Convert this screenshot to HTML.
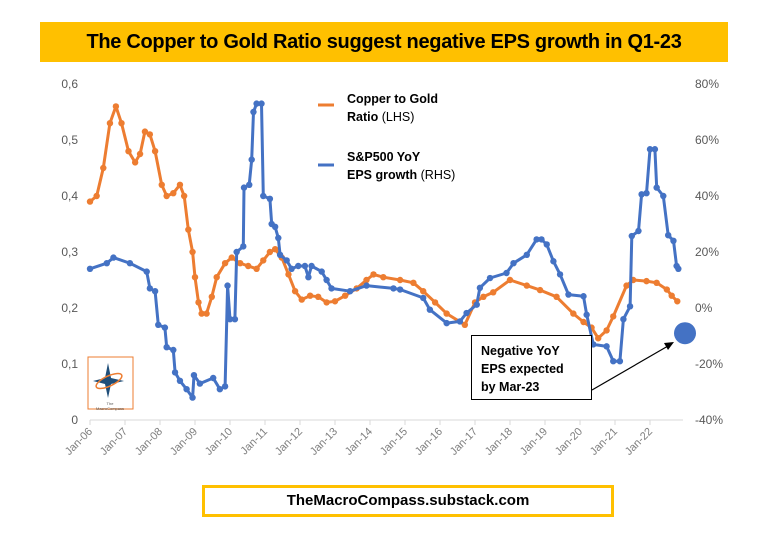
<!DOCTYPE html>
<html><head><meta charset="utf-8">
<style>
html,body{margin:0;padding:0;background:#fff;}
body{width:763px;height:551px;overflow:hidden;position:relative;font-family:"Liberation Sans",sans-serif;}
#title{position:absolute;left:40px;top:22px;width:688px;height:40px;background:#FFC000;color:#000;font-weight:bold;font-size:20px;line-height:40px;text-align:center;letter-spacing:-0.3px;}
#footer{position:absolute;left:202px;top:485px;width:406px;height:26px;border:3px solid #FFC000;color:#000;font-weight:bold;font-size:15px;line-height:26px;text-align:center;}
svg{position:absolute;left:0;top:0;}
</style></head><body>
<div id="title">The Copper to Gold Ratio suggest negative EPS growth in Q1-23</div>
<div id="footer">TheMacroCompass.substack.com</div>
<svg id="chart" width="763" height="551"></svg>
<script>
const yearTicks=["Jan-06","Jan-07","Jan-08","Jan-09","Jan-10","Jan-11","Jan-12","Jan-13","Jan-14","Jan-15","Jan-16","Jan-17","Jan-18","Jan-19","Jan-20","Jan-21","Jan-22"];
const leftTicks=["0","0,1","0,2","0,3","0,4","0,5","0,6"];
const leftTickValues=[0,0.1,0.2,0.3,0.4,0.5,0.6];
const rightTicks=["-40%","-20%","0%","20%","40%","60%","80%"];
const rightTickValues=[-40,-20,0,20,40,60,80];
const copperDates=[2006.0,2006.19,2006.38,2006.57,2006.74,2006.9,2007.1,2007.29,2007.43,2007.57,2007.71,2007.86,2008.05,2008.19,2008.38,2008.57,2008.69,2008.81,2008.93,2009.0,2009.1,2009.19,2009.33,2009.48,2009.62,2009.86,2010.05,2010.29,2010.52,2010.76,2010.95,2011.14,2011.29,2011.48,2011.67,2011.86,2012.05,2012.29,2012.52,2012.76,2013.0,2013.29,2013.62,2013.9,2014.1,2014.38,2014.86,2015.24,2015.52,2015.86,2016.19,2016.71,2017.0,2017.24,2017.52,2018.0,2018.48,2018.86,2019.33,2019.81,2020.1,2020.33,2020.52,2020.76,2020.95,2021.33,2021.52,2021.9,2022.19,2022.48,2022.62,2022.78];
const copperValues=[0.39,0.40,0.45,0.53,0.56,0.53,0.48,0.46,0.475,0.515,0.51,0.48,0.42,0.40,0.405,0.42,0.40,0.34,0.30,0.255,0.21,0.19,0.19,0.22,0.255,0.28,0.29,0.28,0.275,0.27,0.285,0.30,0.305,0.29,0.26,0.23,0.215,0.222,0.22,0.21,0.212,0.222,0.235,0.25,0.26,0.255,0.25,0.245,0.23,0.21,0.19,0.17,0.21,0.22,0.228,0.25,0.24,0.232,0.22,0.19,0.175,0.165,0.146,0.16,0.185,0.24,0.25,0.248,0.245,0.233,0.222,0.212];
const epsDates=[2006.0,2006.48,2006.67,2007.14,2007.62,2007.71,2007.86,2007.95,2008.14,2008.19,2008.38,2008.43,2008.57,2008.76,2008.93,2008.97,2009.14,2009.52,2009.71,2009.86,2009.93,2010.0,2010.14,2010.19,2010.38,2010.4,2010.55,2010.62,2010.67,2010.76,2010.9,2010.95,2011.14,2011.19,2011.29,2011.38,2011.43,2011.62,2011.76,2011.95,2012.14,2012.24,2012.33,2012.62,2012.76,2012.9,2013.43,2013.9,2014.67,2014.86,2015.52,2015.71,2016.19,2016.57,2016.76,2017.05,2017.14,2017.43,2017.9,2018.1,2018.48,2018.76,2018.9,2019.05,2019.24,2019.43,2019.67,2020.1,2020.19,2020.38,2020.76,2020.95,2021.14,2021.24,2021.43,2021.48,2021.67,2021.76,2021.9,2022.0,2022.14,2022.19,2022.38,2022.52,2022.67,2022.76,2022.81];
const epsValues=[14,16,18,16,13,7,6,-6,-7,-14,-15,-23,-26,-29,-32,-24,-27,-25,-29,-28,8,-4,-4,20,22,43,44,53,70,73,73,40,39,30,29,25,19,17,14,15,15,11,15,13,10,7,6,8,7,6.6,3.6,-0.6,-5.4,-4.8,-1.8,1.2,7.2,10.7,12.5,16,19,24.5,24.5,22.7,16.7,12,4.8,4.2,-2.4,-13,-13.7,-19,-19,-4,0.6,25.7,27.5,40.6,41,56.7,56.7,43,40,26,24,15,14];
const expectedDate=[2023.0];
const expectedValue=[-9];

const svg=document.getElementById('chart');
const NS='http://www.w3.org/2000/svg';
const X0=90,YR=35,YB=420,YT=84;
const xs=d=>X0+(d-2006)*YR;
const yl=v=>YB-(v/0.6)*(YB-YT);
const yr=p=>YB-((p+40)/120)*(YB-YT);
function mk(tag,attrs){const e=document.createElementNS(NS,tag);for(const k in attrs)e.setAttribute(k,attrs[k]);svg.appendChild(e);return e;}

let ax=mk('line',{x1:90,y1:YB,x2:683,y2:YB,stroke:'#d9d9d9','stroke-width':1});


yearTicks.forEach((t,i)=>{
  const x=xs(2006+i);
  const tk=mk('line',{x1:x,y1:YB,x2:x,y2:YB+5,stroke:'#d9d9d9'});
  
  
  const tx=mk('text',{x:x+3,y:YB+12,'font-size':11,fill:'#7f7f7f','text-anchor':'end',transform:`rotate(-45 ${x+3} ${YB+12})`});
  tx.textContent=t;
  
  
});
leftTicks.forEach((t,i)=>{
  const tx=mk('text',{x:78,y:yl(leftTickValues[i])+4,'font-size':12,fill:'#595959','text-anchor':'end'});
  tx.textContent=t;
  
  
});
rightTicks.forEach((t,i)=>{
  const tx=mk('text',{x:695,y:yr(rightTickValues[i])+4,'font-size':12,fill:'#595959','text-anchor':'start'});
  tx.textContent=t;
  
  
});

function series(dates,vals,yf,color,name){
  const g=mk('g',{});
  
  
  const d=dates.map((t,i)=>(i?'L':'M')+xs(t).toFixed(1)+','+yf(vals[i]).toFixed(1)).join('');
  const p=document.createElementNS(NS,'path');
  p.setAttribute('d',d);p.setAttribute('fill','none');p.setAttribute('stroke',color);
  p.setAttribute('stroke-width',3);p.setAttribute('stroke-linejoin','round');
  g.appendChild(p);
  dates.forEach((t,i)=>{
    const c=document.createElementNS(NS,'circle');
    c.setAttribute('cx',xs(t));c.setAttribute('cy',yf(vals[i]));c.setAttribute('r',3.2);c.setAttribute('fill',color);
    
    
    g.appendChild(c);
  });
  svg.appendChild(g);
}
series(copperDates,copperValues,yl,'#ED7D31','copper-gold-series');
series(epsDates,epsValues,yr,'#4472C4','eps-growth-series');

const l1=mk('line',{x1:318,y1:105,x2:334,y2:105,stroke:'#ED7D31','stroke-width':3});


const l2=mk('line',{x1:318,y1:165,x2:334,y2:165,stroke:'#4472C4','stroke-width':3});


const lt=mk('g',{'font-size':12.5,fill:'#000'});


lt.innerHTML='<text x="347" y="103" font-weight="bold">Copper to Gold</text><text x="347" y="121"><tspan font-weight="bold">Ratio</tspan> (LHS)</text><text x="347" y="161" font-weight="bold">S&amp;P500 YoY</text><text x="347" y="179"><tspan font-weight="bold">EPS growth</tspan> (RHS)</text>';

const bx=mk('rect',{x:471.5,y:335.5,width:120,height:64,fill:'#fff',stroke:'#000','stroke-width':1});


const at=mk('g',{'font-size':12.5,'font-weight':'bold',fill:'#000'});


at.innerHTML='<text x="481" y="355">Negative YoY</text><text x="481" y="373">EPS expected</text><text x="481" y="391">by Mar-23</text>';
const ar=mk('line',{x1:592,y1:390,x2:668,y2:346,stroke:'#000','stroke-width':1.2});


const ah=mk('polygon',{points:'674,342 664,343 668,350',fill:'#000'});


const ec=mk('circle',{cx:xs(expectedDate[0]),cy:yr(expectedValue[0]),r:11,fill:'#4472C4'});



const lg=mk('g',{});


lg.innerHTML='<rect x="88" y="357" width="45" height="52" fill="#fff" stroke="#ED7D31" stroke-width="1"/><polygon points="108,363 111,378 124,381 111,384 108,398 105,384 93,381 105,378" fill="#1F4E79"/><ellipse cx="109" cy="381" rx="14" ry="5" fill="none" stroke="#ED7D31" stroke-width="1.5" transform="rotate(-25 109 381)"/><text x="110" y="405" font-size="4" text-anchor="middle" fill="#555">The</text><text x="110" y="410" font-size="4" text-anchor="middle" fill="#555">MacroCompass</text>';
</script>
</body></html>
